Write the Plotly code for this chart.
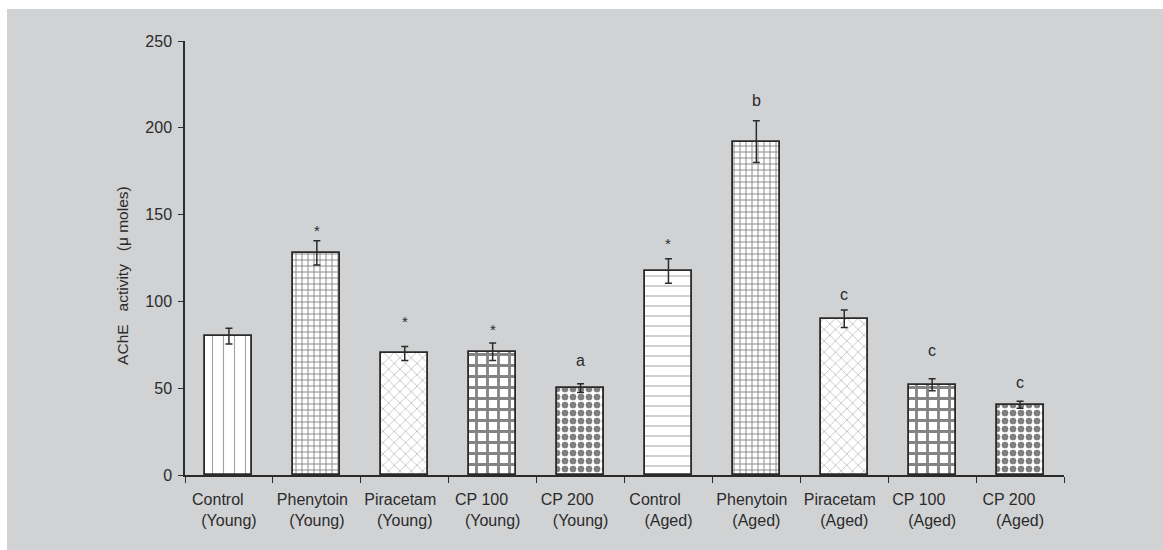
import plotly.graph_objects as go

# Groups, treatment labels and measured AChE activity (mean ± SE)
groups = ["Control", "Phenytoin", "Piracetam", "CP 100", "CP 200",
          "Control", "Phenytoin", "Piracetam", "CP 100", "CP 200"]
ages = ["Young", "Young", "Young", "Young", "Young",
        "Aged", "Aged", "Aged", "Aged", "Aged"]
ache = [80, 128, 70, 71, 50, 117.5, 192, 90, 52, 40.5]
ache_se = [4.5, 7, 4, 5, 2.5, 7, 12, 5, 3.5, 2]

# Significance marks and the height they sit at
sig_marks = ["", "*", "*", "*", "a", "*", "b", "c", "c", "c"]
sig_y = [0, 141, 88.5, 84, 66, 133.5, 216, 104, 71.5, 53.5]

y_ticks = [0, 50, 100, 150, 200, 250]

# trailing no-break spaces nudge the first label line to the left
label_pad = [5, 2, 2, 5, 6, 6, 2, 2, 6, 5]

INK = "#2b2b2b"
BG = "#d1d2d4"
NB = "\u00a0"

keys = [f"{g} ({a})" for g, a in zip(groups, ages)]
tick_text = [f"{g}{NB * p}<br>({a})" for g, a, p in zip(groups, ages, label_pad)]

patterns = {
    "Control (Young)": dict(shape="|", fgcolor="#444444", bgcolor="white", size=11, solidity=0.1),
    "Phenytoin (Young)": dict(shape="+", fgcolor="#111111", bgcolor="white", size=6, solidity=0.3),
    "Piracetam (Young)": dict(shape="x", fgcolor="#555555", bgcolor="white", size=8, solidity=0.15),
    "CP 100 (Young)": dict(shape="+", fgcolor="#0a0a0a", bgcolor="white", size=11, solidity=0.45),
    "CP 200 (Young)": dict(shape=".", fgcolor="#000000", bgcolor="white", size=8, solidity=0.55),
    "Control (Aged)": dict(shape="-", fgcolor="#444444", bgcolor="white", size=10, solidity=0.1),
    "Phenytoin (Aged)": dict(shape="+", fgcolor="#111111", bgcolor="white", size=6, solidity=0.3),
    "Piracetam (Aged)": dict(shape="x", fgcolor="#555555", bgcolor="white", size=8, solidity=0.15),
    "CP 100 (Aged)": dict(shape="+", fgcolor="#0a0a0a", bgcolor="white", size=11, solidity=0.45),
    "CP 200 (Aged)": dict(shape=".", fgcolor="#000000", bgcolor="white", size=8, solidity=0.55),
}

fig = go.Figure()
for k, v, e in zip(keys, ache, ache_se):
    fig.add_trace(go.Bar(
        x=[k], y=[v],
        width=0.535,
        marker=dict(color="white", pattern=patterns[k],
                    line=dict(color="#2a2a2a", width=1.8)),
        error_y=dict(type="data", array=[e], visible=True,
                     color=INK, thickness=1.5, width=3.5),
        showlegend=False,
        hoverinfo="skip",
    ))

for k, m, y in zip(keys, sig_marks, sig_y):
    if m:
        fig.add_annotation(x=k, y=y, text=m, showarrow=False,
                           font=dict(size=16 if m != "*" else 15, color=INK),
                           yanchor="middle")

# y-axis title placed beside the axis
fig.add_annotation(xref="paper", yref="paper", x=-0.083, y=0.46,
                   text=f"AChE{NB * 3}activity{NB * 3}(\u03bc moles)",
                   textangle=-90, showarrow=False,
                   font=dict(size=15.5, color=INK))

# white border strips at the top and left of the sheet
W, H = 1163, 550
L, R, T, B = 185, 99, 41, 75
pw, ph = W - L - R, H - T - B
fig.add_shape(type="rect", xref="paper", yref="paper",
              x0=-L / pw, x1=(W - L) / pw, y0=1 + (T - 9) / ph, y1=1 + T / ph + 0.01,
              fillcolor="white", line_width=0, layer="below")
fig.add_shape(type="rect", xref="paper", yref="paper",
              x0=-L / pw - 0.01, x1=-(L - 7) / pw, y0=-B / ph - 0.01, y1=1 + T / ph + 0.01,
              fillcolor="white", line_width=0, layer="below")

fig.update_layout(
    width=W, height=H,
    margin=dict(l=L, r=R, t=T, b=B, pad=0, autoexpand=False),
    paper_bgcolor=BG, plot_bgcolor=BG,
    font=dict(family="Liberation Sans, Arial, sans-serif", color=INK, size=16),
    bargap=0,
)
fig.update_xaxes(
    type="category", categoryorder="array", categoryarray=keys,
    tickvals=keys, ticktext=tick_text, tickangle=0, automargin=False,
    tickson="boundaries", ticks="outside", ticklen=6, tickwidth=1.2, tickcolor=INK,
    showline=True, linecolor=INK, linewidth=1.5,
    showgrid=False, zeroline=False,
    tickfont=dict(size=16, color=INK),
    ticklabelstandoff=9,
    range=[-0.5, 9.5],
)
fig.update_yaxes(
    range=[0, 250], tickvals=y_ticks, automargin=False,
    ticks="outside", ticklen=5, tickwidth=1.2, tickcolor=INK,
    showline=True, linecolor=INK, linewidth=1.5,
    showgrid=False, zeroline=False,
    tickfont=dict(size=16, color=INK),
    ticklabelstandoff=3,
)

fig.write_html("out.html")
